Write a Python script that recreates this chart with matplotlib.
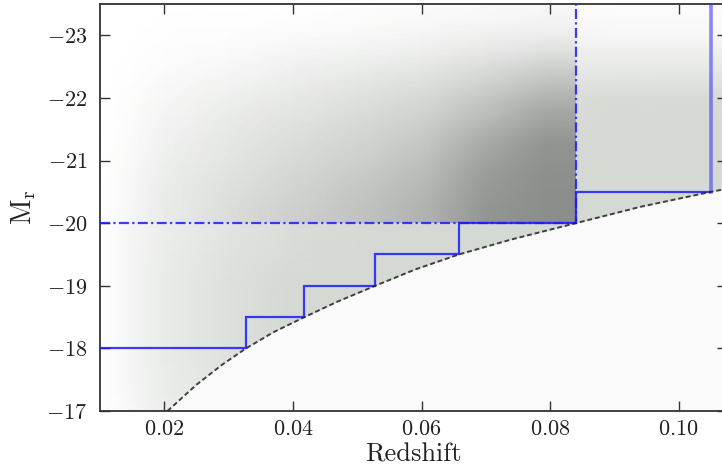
import numpy as np
import matplotlib.pyplot as plt
from matplotlib.colors import LinearSegmentedColormap

plt.rcParams['font.family'] = 'serif'
plt.rcParams['font.serif'] = ['cmr10']
plt.rcParams['mathtext.fontset'] = 'cm'
plt.rcParams['axes.formatter.use_mathtext'] = True

# galaxy density (0 = empty, 1 = saturated)
z_nodes = [0.010, 0.0125, 0.015, 0.02, 0.03, 0.04, 0.05, 0.06, 0.07, 0.08, 0.09, 0.10, 0.11]
M_nodes = [-23.5, -23.0, -22.5, -22.0, -21.5, -21.0, -20.5, -20.0, -19.5, -19.0, -18.5, -18.0, -17.5, -17.0]
light_density = [
    [0, 0,    0,    0,    0,    0,    0.02, 0.04, 0.05, 0.07, 0.06, 0.06, 0.06],
    [0, 0,    0,    0.02, 0.05, 0.08, 0.12, 0.16, 0.2,  0.24, 0.22, 0.22, 0.22],
    [0, 0,    0.02, 0.08, 0.15, 0.25, 0.3,  0.38, 0.45, 0.55, 0.55, 0.55, 0.55],
    [0, 0.02, 0.06, 0.18, 0.3,  0.4,  0.5,  0.6,  0.72, 0.85, 0.95, 0.95, 0.95],
    [0, 0.04, 0.1,  0.28, 0.42, 0.52, 0.62, 0.72, 0.85, 0.95, 1,    1,    1],
    [0, 0.06, 0.16, 0.35, 0.5,  0.62, 0.72, 0.82, 0.92, 1,    1,    1,    1],
    [0, 0.08, 0.22, 0.42, 0.6,  0.75, 0.88, 0.95, 1,    1,    1,    1,    1],
    [0, 0.1,  0.25, 0.45, 0.68, 0.88, 0.95, 1,    1,    1,    1,    1,    1],
    [0, 0.1,  0.25, 0.48, 0.75, 0.93, 1,    1,    1,    1,    1,    1,    1],
    [0, 0.1,  0.25, 0.5,  0.8,  1,    1,    1,    1,    1,    1,    1,    1],
    [0, 0.1,  0.25, 0.5,  0.82, 1,    1,    1,    1,    1,    1,    1,    1],
    [0, 0.1,  0.25, 0.5,  0.8,  0.95, 1,    1,    1,    1,    1,    1,    1],
    [0, 0.1,  0.25, 0.48, 0.72, 0.9,  1,    1,    1,    1,    1,    1,    1],
    [0, 0.08, 0.22, 0.45, 0.68, 0.85, 1,    1,    1,    1,    1,    1,    1],
]

# volume-limited sample (darker points), z < 0.084 and M_r < -20
# cells: 8 redshift bins from 0.01 to 0.084, 7 magnitude bins from -23.5 to -20
dark_density = [
    [0, 0,    0,    0,    0.01, 0.02, 0.03, 0.04],
    [0, 0,    0.01, 0.03, 0.04, 0.06, 0.1,  0.14],
    [0, 0.01, 0.03, 0.06, 0.09, 0.13, 0.24, 0.38],
    [0, 0.02, 0.06, 0.1,  0.15, 0.22, 0.42, 0.68],
    [0, 0.03, 0.08, 0.14, 0.21, 0.34, 0.66, 0.92],
    [0, 0.04, 0.1,  0.18, 0.28, 0.44, 0.82, 0.98],
    [0, 0.04, 0.12, 0.2,  0.32, 0.52, 0.9,  1.0],
]

# apparent magnitude limit
curve_z = [0.0205, 0.025, 0.029, 0.0327, 0.037, 0.0418, 0.047, 0.0528, 0.059, 0.0658, 0.074, 0.084, 0.094, 0.105, 0.11]
curve_M = [-17.0, -17.42, -17.74, -18.0, -18.26, -18.5, -18.75, -19.0, -19.26, -19.5, -19.74, -20.0, -20.26, -20.5, -20.6]

# volume-limited sample steps
step_edges = [0.01, 0.0327, 0.0418, 0.0528, 0.0658, 0.084, 0.105]
step_levels = [-18.0, -18.5, -19.0, -19.5, -20.0, -20.5]
z_cut = 0.084
M_cut = -20.0

fig = plt.figure(figsize=(7.22, 4.72), dpi=100)
ax = fig.add_axes([100/722, 61/472, 627/722, 407/472])

light_cmap = LinearSegmentedColormap.from_list('light', ['#ffffff', '#d5d9d4'])
dark_cmap = LinearSegmentedColormap.from_list('dark', [(0.55, 0.56, 0.55, 0.0), (0.55, 0.56, 0.55, 1.0)])

ax.pcolormesh(z_nodes, M_nodes, np.array(light_density), shading='gouraud',
              cmap=light_cmap, vmin=0, vmax=1, antialiased=False, zorder=0.5)
ax.imshow(np.array(dark_density), cmap=dark_cmap, vmin=0, vmax=1, origin='upper',
          extent=(0.01, z_cut, M_cut, -23.5), interpolation='bilinear', aspect='auto', zorder=1)
ax.fill_between(curve_z, curve_M, -17, color='#fafafa', lw=0, zorder=1.5)

ax.stairs(step_levels, step_edges, baseline=None, color='#1a1aff', lw=1.6, alpha=0.85, zorder=4)
ax.plot([step_edges[-1], step_edges[-1]], [step_levels[-1], -23.5], color='#3c3cff',
        lw=2.6, alpha=0.6, zorder=4)
ax.plot([0.01, z_cut, z_cut], [M_cut, M_cut, -23.5], color='#1a1aff', lw=1.6, alpha=0.85,
        ls=(0, (4.5, 1.5, 1, 1.5)), zorder=4)
ax.plot(curve_z, curve_M, color='#222222', lw=1.4, ls=(0, (2.5, 1.5)), alpha=0.85, zorder=5)

ax.set_xlim(0.01, 0.1075)
ax.set_ylim(-17, -23.5)
ax.set_xticks([0.02, 0.04, 0.06, 0.08, 0.10])
ax.set_yticks([-23, -22, -21, -20, -19, -18, -17])

ax.tick_params(direction='in', top=True, right=True, length=7, width=1, color='#333333',
               labelsize=16, labelcolor='#222222')
ax.tick_params(axis='x', pad=6)
ax.tick_params(axis='y', pad=9)
for s in ax.spines.values():
    s.set_color('#333333')
    s.set_linewidth(1.3)

ax.set_xlabel('Redshift', fontsize=19, color='#222222', labelpad=3)
ax.set_ylabel(r'$\mathrm{M_r}$', fontsize=20, color='#222222', labelpad=6)

fig.savefig('out.png', dpi=100)
